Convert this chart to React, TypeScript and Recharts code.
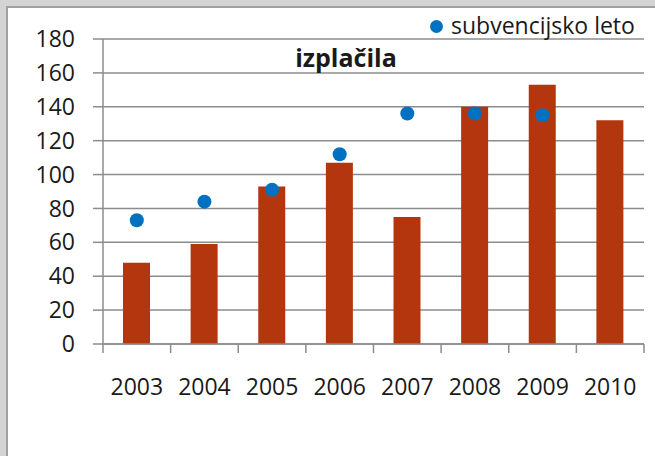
import React from 'react';
import { ComposedChart, Bar, Scatter, XAxis, YAxis, CartesianGrid, Legend, Customized } from 'recharts';

const years = ['2003', '2004', '2005', '2006', '2007', '2008', '2009', '2010'];
const paid = [48, 59, 93, 107, 75, 140, 153, 132];
const subsidyYear: (number | null)[] = [73, 84, 91, 112, 136, 136, 135, null];
const yTicks = [0, 20, 40, 60, 80, 100, 120, 140, 160, 180];
const title = 'izplačila';
const legendLabel = 'subvencijsko leto';

const data = years.map((y, i) => ({ year: y, paid: paid[i], subsidy: subsidyYear[i] }));

const FONT = "'Open Sans', 'Noto Sans', sans-serif";
const TEXT = '#1a1a1a';
const GRID = '#8c8c8c';
const BAR = '#B3360F';
const DOT = '#0070C0';
const X_TICK_SIZE = 9;
const X_TICK_MARGIN = 26;

const XTick = (props: any) => {
  const { x, y, payload, index, visibleTicksCount } = props;
  const half = payload && payload.offset ? payload.offset : 33.8;
  const axisY = y - X_TICK_SIZE - X_TICK_MARGIN;
  const isLast = index === (visibleTicksCount ?? years.length) - 1;
  return (
    <g>
      <line x1={x - half} x2={x - half} y1={axisY} y2={axisY + X_TICK_SIZE} stroke={GRID} strokeWidth={1.5} />
      {isLast && (
        <line x1={x + half} x2={x + half} y1={axisY} y2={axisY + X_TICK_SIZE} stroke={GRID} strokeWidth={1.5} />
      )}
      <text x={x} y={y} dy="0.71em" textAnchor="middle" fill={TEXT} fontSize={23} fontFamily={FONT}>
        {payload.value}
      </text>
    </g>
  );
};

const DotShape = (props: any) => {
  const { cx, cy, payload } = props;
  if (payload == null || payload.subsidy == null || cx == null || cy == null) return <g />;
  return <circle cx={cx} cy={cy} r={7} fill={DOT} />;
};

const LegendContent = (props: any) => {
  const items = (props.payload || []).filter((p: any) => p.type !== 'none');
  return (
    <div style={{ display: 'flex', alignItems: 'center', fontFamily: FONT, fontSize: 23, lineHeight: '23px', color: TEXT, whiteSpace: 'nowrap' }}>
      {items.map((it: any, i: number) => (
        <React.Fragment key={i}>
          <span style={{ display: 'inline-block', width: 13, height: 13, borderRadius: '50%', background: DOT, marginRight: 8, marginTop: 2 }} />
          <span>{legendLabel}</span>
        </React.Fragment>
      ))}
    </div>
  );
};

const Title = () => (
  <text x={346} y={67} textAnchor="middle" fontFamily={FONT} fontWeight="bold" fontSize={25} fill={TEXT}>
    {title}
  </text>
);

export default function App() {
  return (
    <div style={{ position: 'absolute', left: 0, top: 0, width: 655, height: 456, background: '#d4d4d4', overflow: 'hidden' }}>
      <div style={{ position: 'absolute', left: 6, top: 6, width: 700, height: 500, background: '#ffffff', borderLeft: '2px solid #a0a0a0', borderTop: '2px solid #a0a0a0' }} />
      <div style={{ position: 'absolute', left: 0, top: 0 }}>
        <ComposedChart width={655} height={456} data={data} margin={{ top: 39, right: 11, bottom: 52, left: 43 }}>
          <CartesianGrid vertical={false} stroke={GRID} strokeWidth={1.5} />
          <XAxis
            dataKey="year"
            height={60}
            interval={0}
            tickSize={X_TICK_SIZE}
            tickMargin={X_TICK_MARGIN}
            tickLine={false}
            axisLine={{ stroke: GRID, strokeWidth: 1.5 }}
            tick={<XTick />}
          />
          <YAxis
            domain={[0, 180]}
            ticks={yTicks}
            width={60}
            tickSize={10}
            tickMargin={18}
            interval={0}
            axisLine={{ stroke: GRID, strokeWidth: 1.5 }}
            tickLine={{ stroke: GRID, strokeWidth: 1.5 }}
            tick={{ fill: TEXT, fontSize: 23, fontFamily: FONT }}
          />
          <Bar dataKey="paid" fill={BAR} barSize={27} isAnimationActive={false} legendType="none" />
          <Scatter dataKey="subsidy" name={legendLabel} fill={DOT} shape={<DotShape />} isAnimationActive={false} legendType="circle" />
          <Legend
            layout="horizontal"
            verticalAlign="middle"
            align="center"
            content={<LegendContent />}
            wrapperStyle={{ left: 430, top: 14, width: 'auto', height: 'auto' }}
          />
          <Customized component={Title} />
        </ComposedChart>
      </div>
    </div>
  );
}
